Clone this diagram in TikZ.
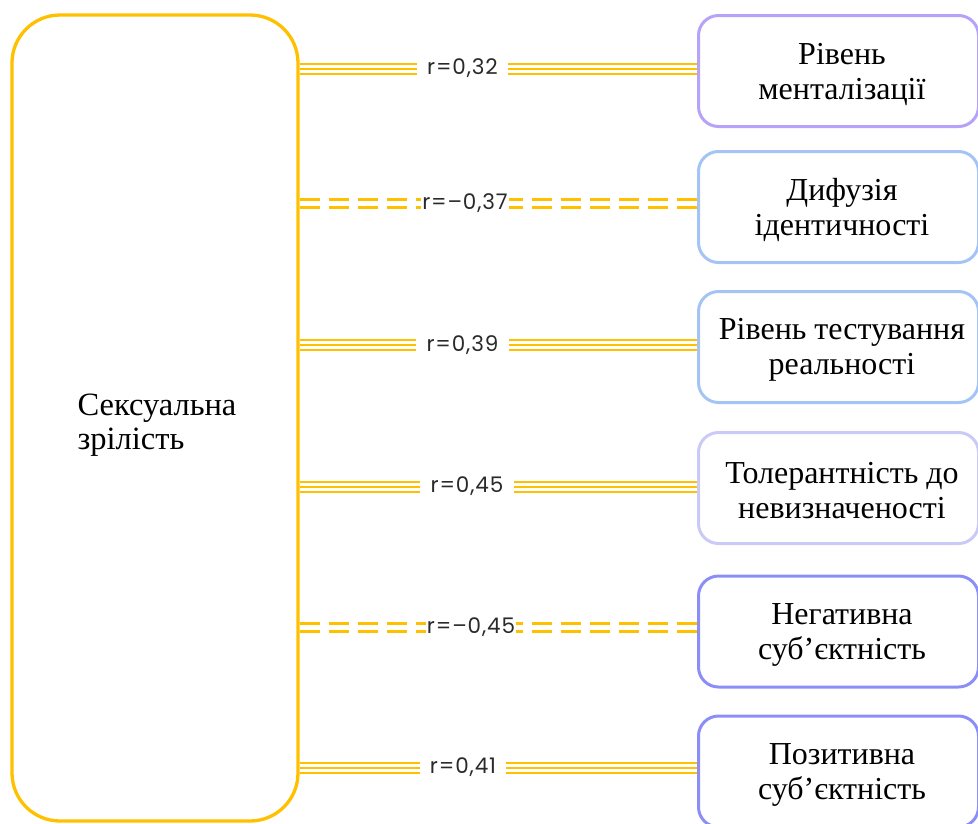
\documentclass[tikz,border=0pt]{standalone}
\usepackage{fontspec}
\setmainfont{Liberation Serif}
\newfontfamily\labfont[LetterSpace=4]{Poppins}
\definecolor{ylw}{HTML}{FFC000}
\definecolor{cA}{RGB}{182,162,248}
\definecolor{cB}{RGB}{164,196,246}
\definecolor{cC}{RGB}{202,202,246}
\definecolor{cD}{RGB}{140,142,248}
\definecolor{txt}{HTML}{2A2A2A}
\tikzset{
  bigbox/.style={draw=ylw, line width=3.3pt, rounded corners=48pt, minimum width=286pt, minimum height=806pt},
  bigtext/.style={font=\fontsize{32.5}{34}\selectfont, align=left, inner sep=0pt},
  rbox/.style={line width=3pt, rounded corners=20pt, minimum width=280pt, minimum height=111pt, inner sep=0pt},
  rtext/.style={font=\fontsize{32}{35}\selectfont, align=center, inner sep=0pt},
  lab/.style={font=\labfont\fontsize{21.5}{22}\selectfont, text=txt, inner ysep=0pt},
  tri/.style={draw=ylw, line width=2pt, double=white, double distance=8pt},
  mid/.style={draw=ylw, line width=2pt},
  dbl/.style={draw=ylw, line width=3pt, double=white, double distance=5pt, dash pattern=on 20pt off 9pt}
}
\begin{document}
\begin{tikzpicture}[x=1pt,y=-1pt]
\useasboundingbox (0,0) rectangle (978,823);
\node[bigbox] (big) at (155,418) {};
\node[bigtext] (bigt) at (157,425) {Сексуальна\\зрілість};
\node[rbox, draw=cA] (b1) at (838.5,71) {};
\node[rbox, draw=cB] (b2) at (838.5,207) {};
\node[rbox, draw=cB] (b3) at (838.5,347) {};
\node[rbox, draw=cC] (b4) at (838.5,488) {};
\node[rbox, draw=cD] (b5) at (838.5,631.5) {};
\node[rbox, draw=cD] (b6) at (838.5,771.5) {};
\node[rtext] (t1) at (842,74) {Рівень\\менталізації};
\node[rtext] (t2) at (842,210) {Дифузія\\ідентичності};
\node[rtext] (t3) at (842,350) {Рівень тестування\\реальності};
\node[rtext] (t4) at (842,491) {Толерантність до\\невизначеності};
\node[rtext] (t5) at (842,634.5) {Негативна\\суб’єктність};
\node[rtext] (t6) at (842,774.5) {Позитивна\\суб’єктність};
% labels
\node[lab, inner xsep=10pt] (l1) at (462.5,68.5) {r=0,32};
\node[lab, inner xsep=1pt] (l2) at (465,203) {r=–0,37};
\node[lab, inner xsep=10pt] (l3) at (462.5,345) {r=0,39};
\node[lab, inner xsep=10pt] (l4) at (467,486.5) {r=0,45};
\node[lab, inner xsep=1pt] (l5) at (471,627) {r=–0,45};
\node[lab, inner xsep=10pt] (l6) at (463,767.5) {r=0,41};
% triple connectors
\foreach \i in {1,3,4,6}{
  \draw[tri] (big.east |- l\i.west) -- (l\i.west);
  \draw[mid] (big.east |- l\i.west) -- (l\i.west);
  \draw[tri] (b\i.west |- l\i.east) -- (l\i.east);
  \draw[mid] (b\i.west |- l\i.east) -- (l\i.east);
}
% dashed double connectors
\foreach \i in {2,5}{
  \draw[dbl] (big.east |- l\i.west) -- (l\i.west);
  \draw[dbl] (b\i.west |- l\i.east) -- (l\i.east);
}
\end{tikzpicture}
\end{document}
